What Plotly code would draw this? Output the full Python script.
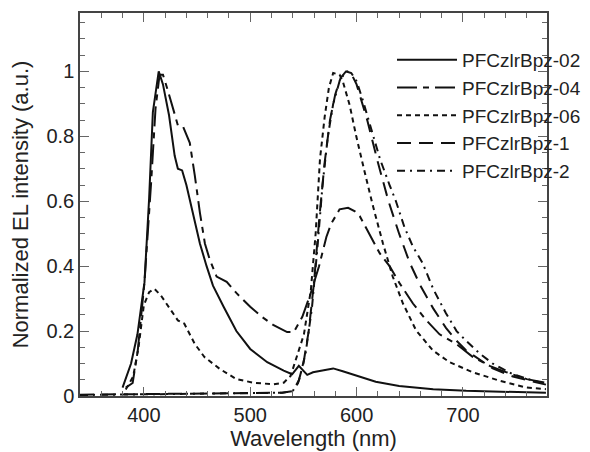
import plotly.graph_objects as go

# ---- data ----
wl_02 = [380, 388, 394, 400.6, 405, 408.5, 414, 418, 423.7, 429, 432, 436, 440, 446, 452.7, 459, 465, 475, 487, 500,
         516, 531.5, 539.4, 545.7, 550, 553.6, 559, 568, 578, 587, 600, 618, 640, 672, 703, 734, 778]
el_02 = [0.026, 0.10, 0.19, 0.35, 0.61, 0.875, 1.0, 0.96, 0.865, 0.74, 0.70, 0.695, 0.65, 0.565, 0.47, 0.40, 0.34,
         0.275, 0.20, 0.145, 0.104, 0.078, 0.067, 0.093, 0.078, 0.065, 0.073, 0.078, 0.085, 0.076, 0.062, 0.044,
         0.031, 0.021, 0.016, 0.013, 0.010]

wl_04 = [383, 389.5, 394.3, 400.6, 406.9, 411, 414.8, 418, 422.7, 427.4, 432, 436.9, 443.2, 447.9, 452.7, 457.4, 462,
         468.4, 477.9, 487.4, 500, 511, 522, 534.7, 541, 549, 556.8, 564.7, 571.6, 576, 584, 592, 598, 603, 612,
         621.7, 631, 640.5, 653, 665.6, 678, 694, 709.4, 725, 741, 760, 778]
el_04 = [0.026, 0.04, 0.14, 0.35, 0.66, 0.886, 0.99, 0.99, 0.94, 0.886, 0.834, 0.83, 0.78, 0.68, 0.565, 0.47, 0.42,
         0.368, 0.352, 0.316, 0.275, 0.244, 0.218, 0.197, 0.197, 0.244, 0.316, 0.40, 0.49, 0.53, 0.575, 0.58, 0.57,
         0.554, 0.50, 0.44, 0.40, 0.347, 0.285, 0.233, 0.19, 0.16, 0.12, 0.093, 0.073, 0.052, 0.041]

wl_06 = [383, 390, 395, 400, 405, 410, 416, 424, 432, 438, 448, 457, 471.6, 487, 503, 522, 531.5, 538, 544, 550.5,
         557, 561.5, 565.6, 570, 574, 578, 584, 587, 593.5, 599.7, 607.6, 615.4, 624.8, 634, 643.6, 656, 671.8,
         687.5, 709.4, 734.5, 759.6, 778]
el_06 = [0.02, 0.06, 0.15, 0.28, 0.32, 0.33, 0.31, 0.27, 0.233, 0.223, 0.16, 0.12, 0.083, 0.052, 0.041, 0.036,
         0.041, 0.062, 0.12, 0.19, 0.326, 0.50, 0.73, 0.86, 0.95, 0.995, 0.99, 0.97, 0.896, 0.80, 0.69, 0.585, 0.47,
         0.368, 0.285, 0.202, 0.14, 0.104, 0.073, 0.047, 0.026, 0.021]

wl_1 = [340, 380, 420, 460, 500, 530, 540, 545, 550, 555, 560, 565, 570, 575, 580, 585, 590, 594, 600, 610, 620,
        630, 640, 650, 660, 672, 684, 694, 703, 716, 728, 747, 766, 778]
el_1 = [0.004, 0.005, 0.006, 0.006, 0.008, 0.01, 0.015, 0.04, 0.1, 0.2, 0.35, 0.55, 0.72, 0.85, 0.93, 0.98, 1.0,
        1.0, 0.96, 0.85, 0.72, 0.6, 0.5, 0.41, 0.34, 0.27, 0.21, 0.17, 0.14, 0.11, 0.085, 0.06, 0.045, 0.035]

wl_2 = [340, 380, 420, 460, 500, 530, 540, 546, 552, 558, 563, 568, 573, 578, 584, 590, 595, 600, 606, 612, 622,
        631, 637, 645, 653, 662, 672, 684, 694, 703, 716, 728, 747, 766, 778]
el_2 = [0.003, 0.004, 0.005, 0.006, 0.007, 0.01, 0.015, 0.05, 0.13, 0.27, 0.45, 0.65, 0.8, 0.9, 0.97, 1.0, 0.995,
        0.97, 0.91, 0.84, 0.73, 0.65, 0.6, 0.52, 0.46, 0.41, 0.33, 0.255, 0.2, 0.17, 0.13, 0.1, 0.067, 0.047, 0.038]

series_names = ["PFCzlrBpz-02", "PFCzlrBpz-04", "PFCzlrBpz-06", "PFCzlrBpz-1", "PFCzlrBpz-2"]
x_tick_vals = [400, 500, 600, 700]
y_tick_vals = [0, 0.2, 0.4, 0.6, 0.8, 1]
y_tick_text = ["0", "0.2", "0.4", "0.6", "0.8", "1"]

# ---- figure ----
FONT = "Liberation Sans, Arial, Helvetica, sans-serif"
dashes = ["solid", "20px,6px,6px,6px", "5px,4px", "14px,8px", "8px,5px,2px,5px"]
xs = [wl_02, wl_04, wl_06, wl_1, wl_2]
ys = [el_02, el_04, el_06, el_1, el_2]

fig = go.Figure()
for name, x, y, d in zip(series_names, xs, ys, dashes):
    fig.add_trace(go.Scatter(x=x, y=y, mode="lines", name=name,
                             line=dict(color="#111111", width=2, dash=d)))

axis_common = dict(showline=True, linecolor="#444444", linewidth=1.5, mirror="ticks",
                   ticks="inside", tickcolor="#666666", tickwidth=1, ticklen=9,
                   showgrid=False, zeroline=False,
                   tickfont=dict(family=FONT, size=20, color="#222222"))

fig.update_layout(
    width=590, height=452,
    margin=dict(l=80, r=43, t=13, b=56, autoexpand=False),
    paper_bgcolor="white", plot_bgcolor="white",
    font=dict(family=FONT, color="#222222"),
    xaxis=dict(range=[340, 779], tickvals=x_tick_vals,
               minor=dict(dtick=20, tick0=400, ticks="inside", ticklen=5, tickcolor="#666666", showgrid=False),
               title=dict(text="Wavelength (nm)", font=dict(family=FONT, size=22, color="#222222"), standoff=2),
               automargin=False,
               **axis_common),
    yaxis=dict(range=[0, 1.18], tickvals=y_tick_vals, ticktext=y_tick_text,
               minor=dict(dtick=0.05, tick0=0, ticks="inside", ticklen=5, tickcolor="#666666", showgrid=False),
               title=dict(text="Normalized EL intensity (a.u.)", font=dict(family=FONT, size=22, color="#222222"),
                          standoff=12),
               automargin=False,
               **axis_common),
    legend=dict(x=(392 - 80) / 467, y=(452 - 56 - 41) / 383, xanchor="left", yanchor="top",
                bgcolor="rgba(0,0,0,0)", borderwidth=0, itemwidth=60,
                font=dict(family=FONT, size=19, color="#222222"), tracegroupgap=0),
    showlegend=True,
)

fig.write_html("out.html", config={"displayModeBar": False},
               post_script="document.body.style.margin='0';document.body.style.overflow='hidden';")
